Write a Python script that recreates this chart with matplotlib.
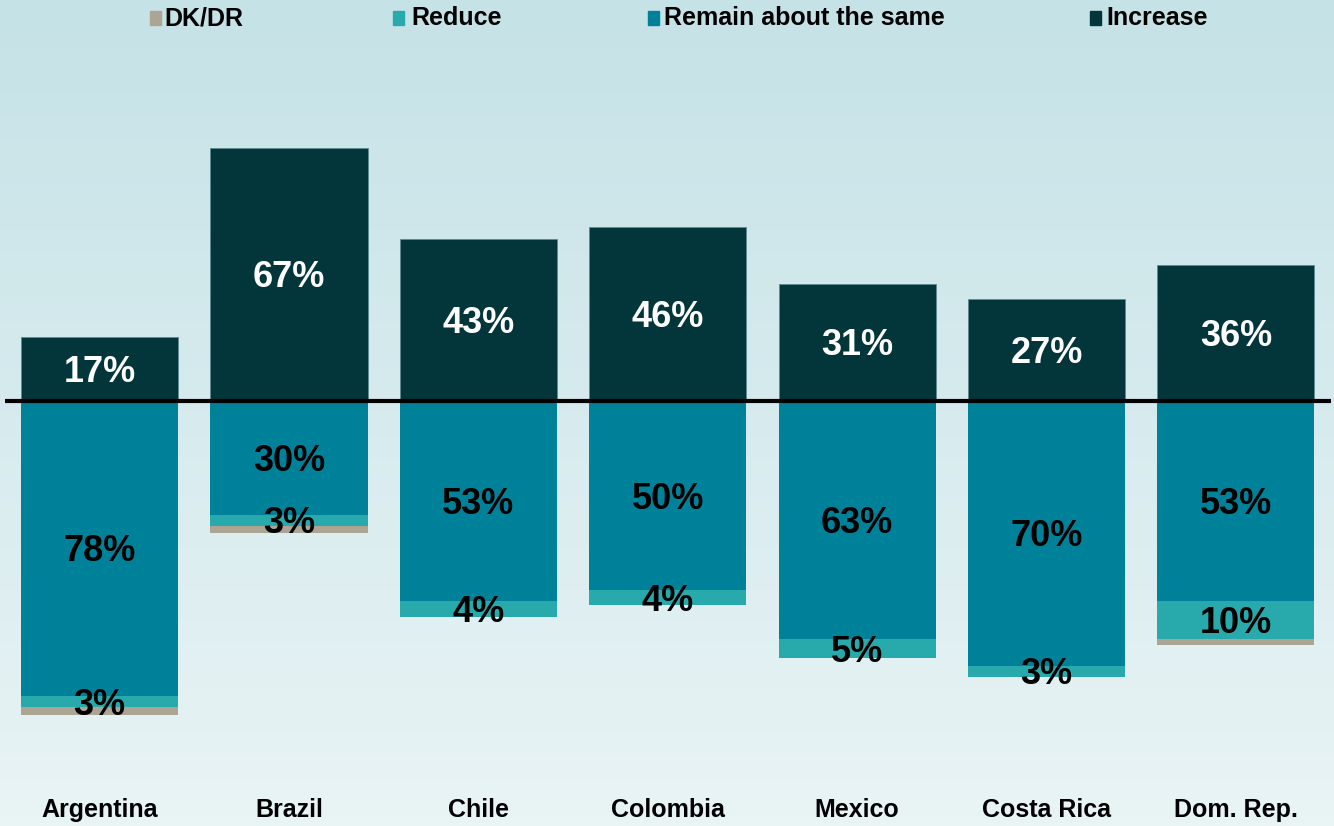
import numpy as np
import matplotlib
matplotlib.use('Agg')
import matplotlib.pyplot as plt
from matplotlib.patches import Rectangle

countries = ['Argentina', 'Brazil', 'Chile', 'Colombia', 'Mexico', 'Costa Rica', 'Dom. Rep.']
increase = [17, 67, 43, 46, 31, 27, 36]
remain = [78, 30, 53, 50, 63, 70, 53]
reduce_ = [3, 3, 4, 4, 5, 3, 10]
dkdr = [2, 2, 0, 0, 0, 0, 1.5]

legend_labels = ['DK/DR', 'Reduce', 'Remain about the same', 'Increase']

C_INC = '#02363B'
C_REM = '#00819A'
C_RED = '#28AAAC'
C_DK = '#ADA594'

plt.rcParams['font.family'] = ['Liberation Sans', 'DejaVu Sans']

W, H = 1334, 826
fig = plt.figure(figsize=(W / 100, H / 100), dpi=100)

# soft vertical gradient background
bg = fig.add_axes([0, 0, 1, 1], zorder=0)
grad = np.linspace(0, 1, 256).reshape(-1, 1)
top = np.array([0xC5, 0xE2, 0xE7]) / 255
bot = np.array([0xE9, 0xF4, 0xF5]) / 255
img = top + (bot - top) * grad[..., None]
bg.imshow(img, aspect='auto', extent=[0, 1, 0, 1], origin='upper')
bg.axis('off')

ax = fig.add_axes([0.0037, 0, 0.9937, 1], zorder=1)
ax.patch.set_alpha(0)
x = np.arange(len(countries))
w = 0.83

rem_neg = -np.array(remain, dtype=float)
red_bot = rem_neg - np.array(reduce_)

ax.bar(x, increase, w, color=C_INC, edgecolor='#5E8A90', linewidth=0.6, zorder=2)
ax.bar(x, rem_neg, w, color=C_REM, zorder=2)
ax.bar(x, -np.array(reduce_), w, bottom=rem_neg, color=C_RED, zorder=2)
ax.bar(x, -np.array(dkdr), w, bottom=red_bot, color=C_DK, zorder=2)
ax.axhline(0, color='black', lw=3, zorder=4)

dy = -0.9  # nudge labels to sit optically centred
for i in range(len(countries)):
    ax.text(x[i], increase[i] / 2 + dy, f'{increase[i]}%', ha='center', va='center',
            color='white', fontsize=26, fontweight='bold', zorder=5)
    ax.text(x[i], -remain[i] / 2 + dy, f'{remain[i]}%', ha='center', va='center',
            color='black', fontsize=26, fontweight='bold', zorder=5)
    ax.text(x[i], rem_neg[i] - reduce_[i] / 2 + dy, f'{reduce_[i]}%', ha='center', va='center',
            color='black', fontsize=26, fontweight='bold', zorder=5)
    ax.text(x[i], -108.2, countries[i], ha='center', va='center',
            color='black', fontsize=18, fontweight='bold', zorder=5)

ax.set_xlim(-0.5, len(countries) - 0.5)
ax.set_ylim(-112.4, 106.1)
ax.axis('off')

# legend row along the top edge
leg_colors = [C_DK, C_RED, C_REM, C_INC]
leg_marker_x = [150, 393, 648, 1090]
leg_text_x = [164, 411, 664, 1106]
leg_y = 18
for lab, col, mx, tx in zip(legend_labels, leg_colors, leg_marker_x, leg_text_x):
    fig.add_artist(Rectangle((mx / W, 1 - (leg_y + 7) / H), 11 / W, 14 / H,
                             transform=fig.transFigure, color=col, zorder=6))
    fig.text(tx / W, 1 - leg_y / H, lab, ha='left', va='center',
             fontsize=18, fontweight='bold', color='black', zorder=6)

fig.savefig('out.png', dpi=100)
